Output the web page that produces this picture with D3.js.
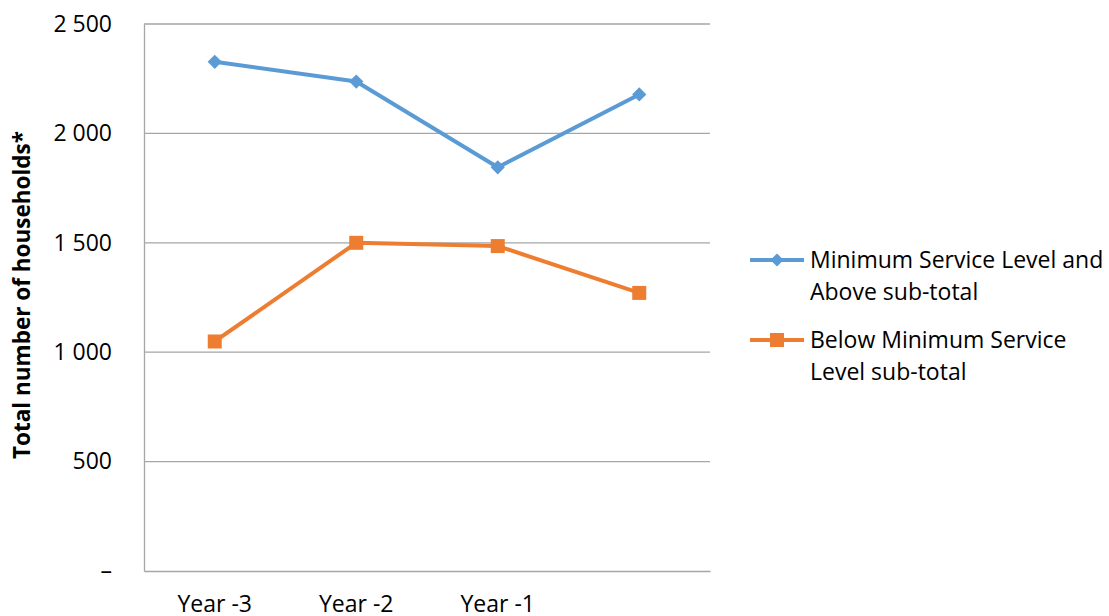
<!DOCTYPE html>
<html>
<head>
<meta charset="utf-8">
<script src="https://cdn.jsdelivr.net/npm/d3@7"></script>
<style>
  html, body { margin: 0; padding: 0; background: #fff; }
  svg { display: block; font-family: "Open Sans", sans-serif; }
</style>
</head>
<body>
<svg id="chart" width="1109" height="616"></svg>
<script>
// Household counts by service level
const categories = ["Year -3", "Year -2", "Year -1", ""];
const aboveMin = [2327, 2237, 1845, 2178];
const belowMin = [1049, 1500, 1485, 1271];
const seriesNames = ["Minimum Service Level and Above sub-total", "Below Minimum Service Level sub-total"];
const yTicks = [0, 500, 1000, 1500, 2000, 2500];

const svg = d3.select("#chart");
const margin = { left: 144, right: 710, top: 24, bottom: 571 };
const font = "'Open Sans', sans-serif";
const fontSize = 23;

const x = d3.scaleBand().domain(d3.range(categories.length)).range([margin.left, margin.right]);
const y = d3.scaleLinear().domain([0, 2500]).range([margin.bottom, margin.top]);

const fmt = v => v === 0 ? "–" : d3.format(",")(v).replace(",", " ");

// gridlines
svg.append("g").selectAll("line").data(yTicks.filter(d => d > 0)).join("line")
  .attr("x1", margin.left).attr("x2", margin.right)
  .attr("y1", d => y(d)).attr("y2", d => y(d))
  .attr("stroke", "#a6a6a6").attr("stroke-width", 1.3);

// axes
const yAxis = svg.append("g").attr("transform", `translate(${margin.left},0)`)
  .call(d3.axisLeft(y).tickValues(yTicks).tickFormat(fmt).tickSize(0).tickPadding(32));
yAxis.select(".domain").attr("stroke", "#a6a6a6").attr("stroke-width", 1.3);
yAxis.selectAll("text").attr("font-size", fontSize).attr("fill", "#000").attr("font-family", font);

const xAxis = svg.append("g").attr("transform", `translate(0,${margin.bottom})`)
  .call(d3.axisBottom(x).tickFormat(i => categories[i]).tickSize(0).tickPadding(25));
xAxis.select(".domain").attr("stroke", "#a6a6a6").attr("stroke-width", 1.3);
xAxis.selectAll("text").attr("font-size", fontSize).attr("fill", "#000").attr("font-family", font);

// y-axis title
svg.append("text")
  .attr("transform", "translate(30,295) rotate(-90)")
  .attr("text-anchor", "middle")
  .attr("font-family", font)
  .attr("font-size", 22.5).attr("font-weight", "bold")
  .text("Total number of households*");

const cx = i => x(i) + x.bandwidth() / 2;
const line = d3.line().x((d, i) => cx(i)).y(d => y(d));

const blue = "#5b9bd5", orange = "#ed7d31";

// above-minimum series
svg.append("path").datum(aboveMin).attr("d", line)
  .attr("fill", "none").attr("stroke", blue).attr("stroke-width", 4).attr("stroke-linejoin", "round");
svg.append("g").selectAll("path").data(aboveMin).join("path")
  .attr("d", d3.symbol(d3.symbolDiamond2, 130))
  .attr("transform", (d, i) => `translate(${cx(i)},${y(d)})`)
  .attr("fill", blue);

// below-minimum series
svg.append("path").datum(belowMin).attr("d", line)
  .attr("fill", "none").attr("stroke", orange).attr("stroke-width", 4).attr("stroke-linejoin", "round");
svg.append("g").selectAll("rect").data(belowMin).join("rect")
  .attr("x", (d, i) => cx(i) - 7).attr("y", d => y(d) - 7)
  .attr("width", 14).attr("height", 14)
  .attr("fill", orange);

// legend
const legend = [
  { color: blue, marker: "diamond", lines: ["Minimum Service Level and", "Above sub-total"], y: 260 },
  { color: orange, marker: "square", lines: ["Below Minimum Service", "Level sub-total"], y: 340 }
];
const lg = svg.append("g");
legend.forEach(l => {
  lg.append("line").attr("x1", 750).attr("x2", 804).attr("y1", l.y).attr("y2", l.y)
    .attr("stroke", l.color).attr("stroke-width", 4);
  if (l.marker === "diamond") {
    lg.append("path").attr("d", d3.symbol(d3.symbolDiamond2, 110))
      .attr("transform", `translate(777,${l.y})`).attr("fill", l.color);
  } else {
    lg.append("rect").attr("x", 770).attr("y", l.y - 7).attr("width", 14).attr("height", 14).attr("fill", l.color);
  }
  const t = lg.append("text").attr("x", 810).attr("y", l.y + 8)
    .attr("font-family", font).attr("font-size", fontSize).attr("fill", "#000");
  l.lines.forEach((s, j) => t.append("tspan").attr("x", 810).attr("dy", j === 0 ? 0 : 32).text(s));
});
</script>
</body>
</html>
